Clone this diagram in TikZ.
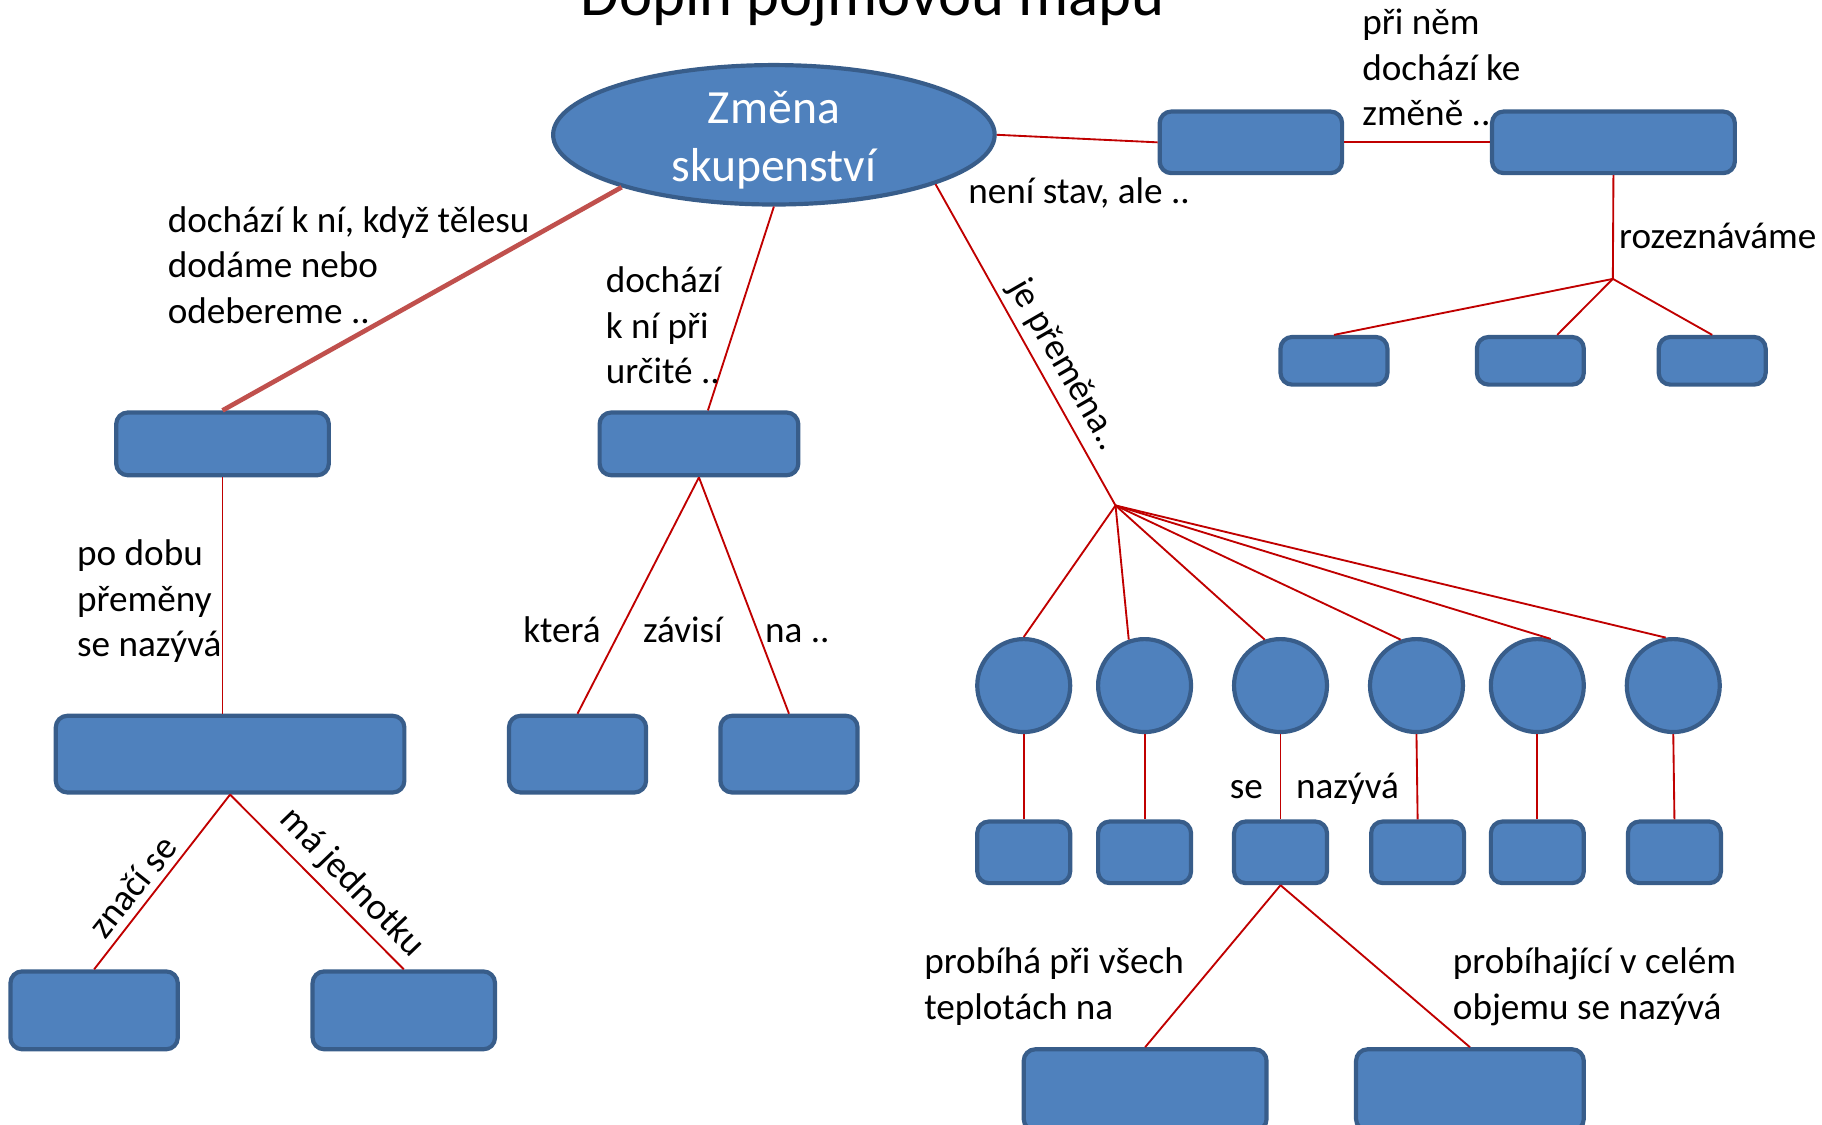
\documentclass[tikz,border=0pt]{standalone}
\usepackage{fontspec}
\setmainfont{Carlito}
\usetikzlibrary{shapes.geometric}

\definecolor{boxfill}{RGB}{79,129,189}
\definecolor{boxline}{RGB}{56,93,138}
\definecolor{linkred}{RGB}{192,0,0}
\definecolor{linkrose}{RGB}{192,80,77}

\tikzset{
	termbox/.style 2 args={
		rectangle, rounded corners=5pt, draw=boxline, fill=boxfill,
		line width=1.8pt, inner sep=0pt,
		minimum width=#1*0.5pt, minimum height=#2*0.5pt},
	termdot/.style={
		circle, draw=boxline, fill=boxfill,
		line width=1.8pt, inner sep=0pt, minimum size=40pt},
	termoval/.style={
		ellipse, draw=boxline, fill=boxfill, line width=1.8pt,
		inner sep=0pt, minimum width=190pt, minimum height=60pt},
	ovaltext/.style={text=white, align=center, inner sep=0pt,
		font=\fontsize{20.5}{25}\selectfont},
	relline/.style={draw=linkred, line width=0.8pt},
	relnote/.style={inner sep=0pt, align=left, font=\fontsize{16}{19.5}\selectfont},
	slantnote/.style={relnote, inner sep=3pt, anchor=south, rotate=#1}
}

\begin{document}
\begin{tikzpicture}[x=0.5pt,y=0.5pt,yscale=-1,xscale=1]
\useasboundingbox (0,0) rectangle (1568,968); %page of the slide

\node[font=\fontsize{27}{32}\selectfont, anchor=base, inner sep=0pt] (title) at (751,13) {Doplň pojmovou mapu};

% main concept and the top row
\node[termoval, label={[ovaltext, yshift=-2.25pt]center:{Změna\\skupenství}}] (zmena) at (666,116) {};
\node[termbox={157}{53}] (proces) at (1076.5,122.5) {};
\node[termbox={209}{53}] (zmenaSkup) at (1388.5,122.5) {};
\coordinate (rozcest) at (1388,240);
\node[termbox={92}{41}] (druh1) at (1148,310.5) {};
\node[termbox={92}{41}] (druh2) at (1317,310.5) {};
\node[termbox={92}{41}] (druh3) at (1473.5,310.5) {};

% left branch
\node[termbox={183}{54}] (teplo) at (191.5,382) {};
\node[termbox={300}{66}] (velicina) at (198,649) {};
\node[termbox={144}{67}] (znacka) at (81,869.5) {};
\node[termbox={157}{67}] (jednotka) at (347.5,869.5) {};

% middle branch
\node[termbox={171}{54}] (teplota) at (601.5,382) {};
\node[termbox={118}{66}] (zavisi1) at (497,649) {};
\node[termbox={118}{66}] (zavisi2) at (679,649) {};

% right branch
\coordinate (uzel) at (960,435);
\node[termdot] (prechod1) at (881,590) {};
\node[termdot] (prechod2) at (985,590) {};
\node[termdot] (prechod3) at (1102,590) {};
\node[termdot] (prechod4) at (1219,590) {};
\node[termdot] (prechod5) at (1323,590) {};
\node[termdot] (prechod6) at (1440,590) {};
\node[termbox={80}{53}] (nazev1) at (881,733.5) {};
\node[termbox={80}{53}] (nazev2) at (985,733.5) {};
\node[termbox={80}{53}] (nazev3) at (1102,733.5) {};
\node[termbox={80}{53}] (nazev4) at (1220,733.5) {};
\node[termbox={80}{53}] (nazev5) at (1323,733.5) {};
\node[termbox={80}{53}] (nazev6) at (1441,733.5) {};
\node[termbox={209}{70}] (odpar) at (985.5,938) {};
\node[termbox={196}{70}] (var) at (1265,938) {};

% connectors
\draw[relline] (zmena.east) -- (proces.west);
\draw[relline] (proces.east) -- (zmenaSkup.west);
\draw[relline] (zmenaSkup.south) -- (rozcest);
\draw[relline] (rozcest) -- (druh1.north);
\draw[relline] (rozcest) -- (druh2.44);
\draw[relline] (rozcest) -- (druh3.north);

\draw[draw=linkrose, line width=2pt] (zmena.199) -- (teplo.north);
\draw[relline] (teplo.south) -- (teplo.south |- velicina.north);
\draw[relline] (velicina.south) -- node[slantnote=51.6, pos=0.6] {značí se} (znacka.north);
\draw[relline] (velicina.south) -- node[slantnote=-46.1, pos=0.6] {má jednotku} (jednotka.north);

\draw[relline] (zmena.south) -- (teplota.75);
\draw[relline] (teplota.south) -- (zavisi1.north);
\draw[relline] (teplota.south) -- (zavisi2.north);

\draw[relline] (zmena.343) -- node[slantnote=-60.1, pos=0.6] {je přeměna..} (uzel);
\draw[relline] (uzel) -- (prechod1.north);
\draw[relline] (uzel) -- (prechod2.109);
\draw[relline] (uzel) -- (prechod3.109);
\draw[relline] (uzel) -- (prechod4.109);
\draw[relline] (uzel) -- (prechod5.74);
\draw[relline] (uzel) -- (prechod6.99);
\draw[relline] (prechod1.south) -- (nazev1.north);
\draw[relline] (prechod2.south) -- (nazev2.north);
\draw[relline] (prechod3.south) -- (nazev3.north);
\draw[relline] (prechod4.south) -- (nazev4.north);
\draw[relline] (prechod5.south) -- (nazev5.north);
\draw[relline] (prechod6.south) -- (nazev6.north);
\draw[relline] (nazev3.south) -- (odpar.north);
\draw[relline] (nazev3.south) -- (var.north);

% link texts (base = last line)
\node[relnote, anchor=base west] (noteTeplo) at (144,278) {dochází k ní, když tělesu\\dodáme nebo\\odebereme ..};
\node[relnote, anchor=base west] (noteUrcite) at (521,330) {dochází\\k ní při\\určité ..};
\node[relnote, anchor=base west] (noteStav) at (833,175) {není stav, ale ..};
\node[relnote, anchor=base west] (noteZmena) at (1172,108) {při něm\\dochází ke\\změně ..};
\node[relnote, anchor=base west] (noteDruh) at (1393,214) {rozeznáváme};
\node[relnote, anchor=base west] (noteDoba) at (66,565) {po dobu\\přeměny\\se nazývá};
\node[relnote, anchor=base west] (noteKtera) at (450,553) {která};
\node[relnote, anchor=base west] (noteZavisi) at (553,553) {závisí};
\node[relnote, anchor=base west] (noteNa) at (658,553) {na ..};
\node[relnote, anchor=base west] (noteSe) at (1058,687) {se};
\node[relnote, anchor=base west] (noteNazyva) at (1115,687) {nazývá};
\node[relnote, anchor=base west] (noteVsech) at (795,877) {probíhá při všech\\teplotách na};
\node[relnote, anchor=base west] (noteObjem) at (1250,877) {probíhající v celém\\objemu se nazývá};

\end{tikzpicture}
\end{document}
